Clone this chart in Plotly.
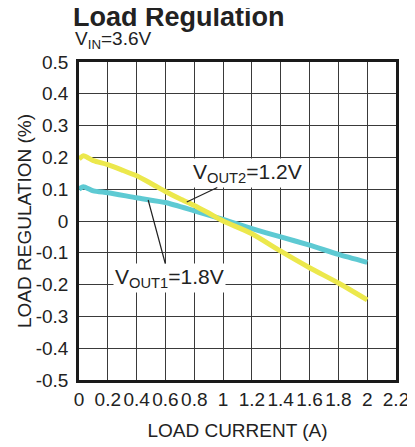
import plotly.graph_objects as go

# Data
vout2_current = [0, 0.03, 0.1, 0.2, 0.3, 0.4, 0.5, 0.6, 0.7, 0.8, 0.9, 1.0, 1.2, 1.4, 1.6, 1.8, 2.0]
vout2_reg = [0.195, 0.205, 0.19, 0.177, 0.16, 0.142, 0.118, 0.093, 0.07, 0.049, 0.025, 0.0,
             -0.04, -0.095, -0.147, -0.195, -0.248]

vout1_current = [0, 0.03, 0.1, 0.2, 0.4, 0.6, 0.8, 1.0, 1.2, 1.4, 1.6, 1.8, 2.0]
vout1_reg = [0.1, 0.108, 0.095, 0.089, 0.073, 0.058, 0.032, 0.005, -0.024, -0.05, -0.076, -0.105, -0.13]

x_tickvals = [0, 0.2, 0.4, 0.6, 0.8, 1.0, 1.2, 1.4, 1.6, 1.8, 2.0, 2.2]
x_ticktext = ["0", "0.2", "0.4", "0.6", "0.8", "1", "1.2", "1.4", "1.6", "1.8", "2", "2.2"]
y_tickvals = [0.5, 0.4, 0.3, 0.2, 0.1, 0, -0.1, -0.2, -0.3, -0.4, -0.5]
y_ticktext = ["0.5", "0.4", "0.3", "0.2", "0.1", "0", "-0.1", "-0.2", "-0.3", "-0.4", "-0.5"]

FONT = "Liberation Sans, Arial, Helvetica, sans-serif"

# The page body has an 8px default margin, so the figure is 8px smaller
W, H = 407, 439

fig = go.Figure()
fig.add_trace(go.Scatter(x=vout1_current, y=vout1_reg, mode="lines",
                         line=dict(color="#5ECAD3", width=5, shape="spline", smoothing=0.6),
                         name="VOUT1=1.8V"))
fig.add_trace(go.Scatter(x=vout2_current, y=vout2_reg, mode="lines",
                         line=dict(color="#ECE84C", width=5, shape="spline", smoothing=0.6),
                         name="VOUT2=1.2V"))

axis_common = dict(showgrid=True, gridcolor="#3a3a3a", gridwidth=1.2,
                   showline=True, linecolor="#1a1a1a", linewidth=2.5, mirror=True,
                   zeroline=False, ticks="", automargin=False,
                   tickfont=dict(size=19, color="#222", family=FONT))

fig.update_xaxes(range=[0, 2.2], tickvals=x_tickvals, ticktext=x_ticktext, tickangle=0,
                 ticklabelstandoff=0,
                 title=dict(text="LOAD CURRENT (A)", font=dict(size=19, color="#222", family=FONT), standoff=16),
                 **axis_common)
fig.update_yaxes(range=[-0.5, 0.5], tickvals=y_tickvals, ticktext=y_ticktext,
                 ticklabelstandoff=4,
                 title=dict(text="LOAD REGULATION (%)", font=dict(size=19, color="#222", family=FONT), standoff=0),
                 **axis_common)

fig.update_layout(
    width=W, height=H,
    margin=dict(l=71, r=19, t=54, b=67),
    paper_bgcolor="white", plot_bgcolor="white",
    showlegend=False,
    font=dict(family=FONT, color="#222"),
    title=dict(text="<b>Load Regulation</b>", font=dict(size=27, color="#222", family=FONT),
               x=65 / W, xanchor="left", xref="container",
               y=1 - 9 / H, yanchor="middle", yref="container"),
    annotations=[
        dict(text="V<sub>IN</sub>=3.6V", xref="paper", yref="paper",
             x=-6 / 317, xanchor="left", y=1 + 22 / 318, yanchor="middle",
             showarrow=False, font=dict(size=19, color="#222", family=FONT)),
        dict(text="V<sub>OUT2</sub>=1.2V", x=0.748, y=0.06, ax=61, ay=-29,
             xanchor="center", yanchor="middle", showarrow=True, arrowhead=0,
             arrowwidth=1.2, arrowcolor="#222", bgcolor="white",
             font=dict(size=21, color="#222", family=FONT)),
        dict(text="V<sub>OUT1</sub>=1.8V", x=0.48, y=0.066, ax=21, ay=78,
             xanchor="center", yanchor="middle", showarrow=True, arrowhead=0,
             arrowwidth=1.2, arrowcolor="#222", bgcolor="white",
             font=dict(size=21, color="#222", family=FONT)),
    ],
)

fig.write_html("out.html")
